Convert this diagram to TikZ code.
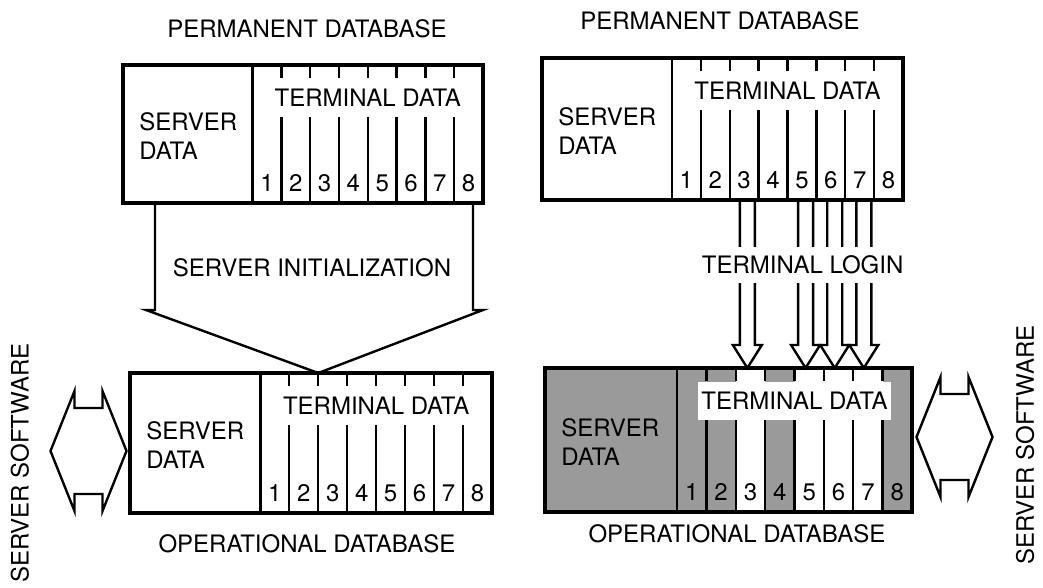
\documentclass[tikz,border=0pt]{standalone}
\usepackage{fontspec}
\setmainfont{TeX Gyre Heros}
\usetikzlibrary{calc,backgrounds}
\definecolor{dbgray}{HTML}{9A9A9A}
\newcommand{\lbfont}{\fontsize{12}{14.5}\selectfont}
\tikzset{
  outer/.style  ={draw, line width=2.2pt, line join=miter},
  sep/.style    ={draw, line width=1.2pt},
  fat/.style    ={draw, line width=1.2pt, line join=miter},
  lbl/.style    ={font=\lbfont, inner sep=1pt},
  num/.style    ={font=\lbfont, inner sep=0pt},
  srv/.style    ={font=\lbfont, align=left, inner sep=0pt, anchor=west},
  plain/.style  ={},
  masked/.style ={fill=white, inner xsep=1.5pt, inner ysep=5pt},
  gap/.style    ={font=\lbfont, fill=white, inner xsep=2pt, inner ysep=4.5pt},
}
% database box: name, left, top, right, bottom, extra style of its heading
\newcommand{\dbase}[6]{%
  \pgfmathsetmacro{\dbdiv}{#2+0.36*(#4-#2)}%
  \pgfmathsetmacro{\dbcol}{(#4-\dbdiv)/8}%
  \coordinate (#1-nw) at (#2,#3);
  \coordinate (#1-se) at (#4,#5);
  \foreach \i in {0,...,8} {
    \coordinate (#1-d\i) at ({\dbdiv+\i*\dbcol},#3);
    \coordinate (#1-e\i) at ({\dbdiv+\i*\dbcol},#5);
  }
  \foreach \i in {1,...,8} {
    \coordinate (#1-t\i) at ({\dbdiv+(\i-0.5)*\dbcol},#3);
    \coordinate (#1-b\i) at ({\dbdiv+(\i-0.5)*\dbcol},#5);
    \node[num] (#1-n\i) at ({\dbdiv+(\i-0.5)*\dbcol},#5-20) {\i};
  }
  \draw[sep] (#1-d0) -- (#1-e0);
  \foreach \i in {1,...,7} {
    \draw[sep] (#1-d\i) -- ++(0,13);
    \draw[sep] ($(#1-d\i)+(0,52)$) -- (#1-e\i);
  }
  \node[lbl,#6] (#1-term) at ({\dbdiv+4*\dbcol},#3+33) {TERMINAL DATA};
  \node[srv] (#1-srv) at (#2+16,{(#3+#5)/2+2}) {SERVER\\DATA};
  \draw[outer] (#1-nw) rectangle (#1-se);
}
% one terminal login arrow, from column #1 above to column #1 below
\newcommand{\login}[1]{%
  \coordinate (lg#1) at ($(tr-b#1)!.5!(br-t#1)$);
  \coordinate (lg#1-top) at (lg#1 |- tr-b#1);
  \coordinate (lg#1-tip) at (lg#1 |- br-t#1);
  \draw[fat] ($(lg#1-top)+(-7.5,0)$) -- ($(lg#1-tip)+(-7.5,-23)$) -- ($(lg#1-tip)+(-14.5,-23)$)
    -- (lg#1-tip) -- ($(lg#1-tip)+(14.5,-23)$) -- ($(lg#1-tip)+(7.5,-23)$) -- ($(lg#1-top)+(7.5,0)$);
}
% two-headed arrow to the server software
\newcommand{\softarrow}[1]{%
  \draw[fat] ($(#1)+(-38,0)$) -- ++(24,-60) -- ++(0,17) -- ++(28,0) -- ++(0,-17) -- ++(24,60)
    -- ++(-24,60) -- ++(0,-17) -- ++(-28,0) -- ++(0,17) -- cycle;
}

\begin{document}
\begin{tikzpicture}[x=0.5pt,y=-0.5pt]
  \useasboundingbox (0,0) rectangle (1043,588);
  % the four databases
  \dbase{tl}{123}{65}{483}{203}{plain}
  \dbase{tr}{542}{58}{903}{200}{plain}
  \dbase{bl}{130}{373}{492}{513}{plain}
  \dbase{br}{545}{368}{912}{512}{masked}
  \begin{scope}[on background layer]
    \fill[dbgray] (br-nw) rectangle (br-se);
    \foreach \i/\j in {2/3,4/5,5/6,6/7} {\fill[white] (br-d\i) rectangle (br-e\j);}
  \end{scope}
  \node[lbl] (permL) at (307,29) {PERMANENT DATABASE};
  \node[lbl] (permR) at (720,21) {PERMANENT DATABASE};
  \node[lbl] (operL) at (307,544) {OPERATIONAL DATABASE};
  \node[lbl] (operR) at (737,534) {OPERATIONAL DATABASE};
  % server initialization
  \coordinate (initL) at ($(tl-se)+(-328,0)$);
  \coordinate (initR) at ($(tl-se)+(-10,0)$);
  \draw[fat] (initL) -- ++(0,107) -- ++(-9,0) -- (bl-d2) -- ($(initR)+(10,107)$)
    -- ($(initR)+(0,107)$) -- (initR);
  \node[lbl] (init) at ($(initL)!.5!(initR)+(-2,65)$) {SERVER INITIALIZATION};
  % terminal login
  \foreach \c in {3,5,6,7} {\login{\c}}
  \node[gap] (login) at ($(lg3)!.5!(lg7)+(-3,-19)$) {TERMINAL LOGIN};
  % server software
  \coordinate (swL) at ($(bl-nw)+(-41.5,78)$);
  \coordinate (swR) at ($(br-se)+(42.5,-75)$);
  \softarrow{swL}
  \softarrow{swR}
  \node[lbl,rotate=90] (softL) at (20,463) {SERVER SOFTWARE};
  \node[lbl,rotate=90] (softR) at (1025,445) {SERVER SOFTWARE};
\end{tikzpicture}
\end{document}
